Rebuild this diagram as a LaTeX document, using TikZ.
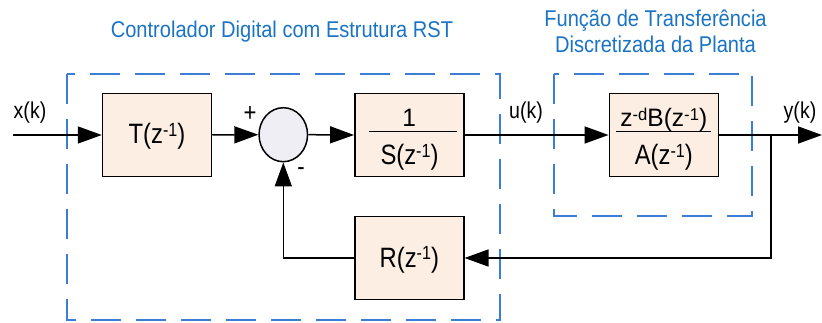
\documentclass[tikz,border=0pt]{standalone}
\usepackage{graphicx}
\usepackage{fontspec}
\setmainfont{Liberation Sans}[FakeStretch=0.85]
\newfontfamily\ttlfont{Liberation Sans}[FakeStretch=0.88]
\usetikzlibrary{arrows.meta,shapes.geometric}
\definecolor{boxfill}{HTML}{FCEEE2}
\definecolor{sumfill}{HTML}{EFEEF5}
\definecolor{dashblue}{HTML}{3C7DD5}
\definecolor{titleblue}{HTML}{1A73C4}
\newcommand\spx[1]{\raisebox{7.3pt}{\fontsize{19}{19}\selectfont #1}}
\newcommand\bxsize{\fontsize{28}{33}\selectfont}
\newcommand\numsq[1]{\scalebox{1.03}[0.9]{#1}}
\tikzset{
  blk/.style={draw, line width=1.5pt, fill=boxfill, minimum width=109pt,
    minimum height=83pt, inner sep=0pt, font=\bxsize, text height=24pt, text depth=6pt},
  txt/.style={inner sep=0pt, font=\bxsize},
  lbl/.style={inner sep=0pt, font=\fontsize{23}{27}\selectfont},
  sgn/.style={inner sep=0pt, font=\fontsize{26}{27}\selectfont},
  sumnode/.style={ellipse, draw, line width=1.5pt, fill=sumfill,
    minimum width=48.5pt, minimum height=54pt, inner sep=0pt},
  sig/.style={line width=1.5pt, -{Triangle[length=24pt,width=17pt]}},
  wire/.style={line width=1.5pt},
  grp/.style={draw=dashblue, line width=2pt, dash pattern=on 30pt off 15pt},
  ttl/.style={text=titleblue, font=\ttlfont\fontsize{22.8}{26}\selectfont, align=center, inner sep=0pt},
}
\begin{document}
\begin{tikzpicture}[x=1pt,y=-1pt]
\useasboundingbox (0,0) rectangle (822,323);
% group frames
\draw[grp] (67,74) rectangle (500,320);
\draw[grp] (554,74) rectangle (752,216);
% titles
\node[ttl, anchor=base] (ttlc) at (282,37.7) {Controlador Digital com Estrutura RST};
\node[ttl, anchor=base] (ttlp) at (655.5,52.7) {Função de Transferência\\Discretizada da Planta};
% blocks
\node[blk] (T) at (157,135) {T(z\spx{-1})};
\node[sumnode] (sum) at (283.3,134.7) {};
\node[blk] (S) at (409.3,135) {};
\node[txt, anchor=base] (Snum) at (409.3,126.7) {\numsq{1}};
\node[txt, anchor=base] (Sden) at (409.5,164.5) {S(z\spx{-1})};
\draw[wire] (369,131.7) -- (457,131.7);
\node[blk] (P) at (663.8,135) {};
\node[txt, anchor=base] (Pnum) at (663.8,126.7) {\numsq{z\spx{-d}B(z\spx{-1})}};
\node[txt, anchor=base] (Pden) at (663.8,165) {A(z\spx{-1})};
\draw[wire] (616,131.7) -- (711,131.7);
\node[blk] (R) at (409.3,258) {R(z\spx{-1})};
% signs and labels
\node[sgn] (plus) at (250,114) {+};
\node[sgn] (minus) at (301,172) {-};
\node[lbl] (xk) at (30,112.5) {x(k)};
\node[lbl] (uk) at (526,113) {u(k)};
\node[lbl] (yk) at (800,113) {y(k)};
% connectors
\coordinate (xin) at (13,135);
\coordinate (yout) at (822,135);
\coordinate (br) at (771,135);
\draw[sig] (xin) -- (T.west);
\draw[sig] (T.east) -- (sum.west);
\draw[sig] (sum.east) -- (S.west);
\draw[sig] (S.east) -- (P.west);
\draw[sig] (P.east) -- (yout);
\draw[sig] (br) |- (R.east);
\draw[sig] (R.west) -| (sum.south);
\end{tikzpicture}
\end{document}
